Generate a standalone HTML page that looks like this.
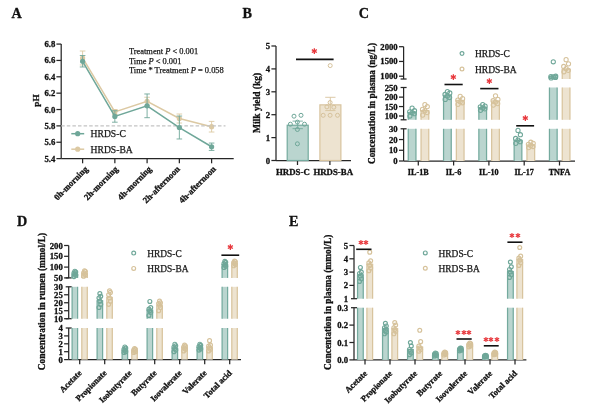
<!DOCTYPE html><html><head><meta charset="utf-8"><style>html,body{margin:0;padding:0;background:#fff;}svg{display:block;filter:blur(0.35px);}text{font-family:'Liberation Serif', 'Times New Roman', serif;}text[font-weight=bold]{stroke:#111;stroke-width:0.3px;}text[font-weight=normal]{stroke:#222;stroke-width:0.25px;}text.st{stroke:none;}</style></head><body>
<svg width="600" height="407" viewBox="0 0 600 407">
<rect width="600" height="407" fill="#fff"/>
<text x="0" y="0" font-size="14.2" font-weight="bold" fill="#111" transform="translate(11.4 18.4) scale(1 1.08)">A</text>
<text x="0" y="0" font-size="14.2" font-weight="bold" fill="#111" transform="translate(242.4 18.3) scale(1 1.08)">B</text>
<text x="0" y="0" font-size="14.2" font-weight="bold" fill="#111" transform="translate(358.8 18.4) scale(1 1.08)">C</text>
<text x="0" y="0" font-size="14.2" font-weight="bold" fill="#111" transform="translate(16.9 225.8) scale(1 1.08)">D</text>
<text x="0" y="0" font-size="14.2" font-weight="bold" fill="#111" transform="translate(289.0 225.8) scale(1 1.08)">E</text>
<line x1="61.20" y1="44.10" x2="61.20" y2="158.60" stroke="#262626" stroke-width="1.25"/>
<line x1="56.40" y1="158.60" x2="61.20" y2="158.60" stroke="#262626" stroke-width="1.25"/>
<text x="55.30" y="161.60" font-size="8.7" font-weight="bold" text-anchor="end" fill="#111">5.4</text>
<line x1="56.40" y1="142.24" x2="61.20" y2="142.24" stroke="#262626" stroke-width="1.25"/>
<text x="55.30" y="145.24" font-size="8.7" font-weight="bold" text-anchor="end" fill="#111">5.6</text>
<line x1="56.40" y1="125.88" x2="61.20" y2="125.88" stroke="#262626" stroke-width="1.25"/>
<text x="55.30" y="128.88" font-size="8.7" font-weight="bold" text-anchor="end" fill="#111">5.8</text>
<line x1="56.40" y1="109.52" x2="61.20" y2="109.52" stroke="#262626" stroke-width="1.25"/>
<text x="55.30" y="112.52" font-size="8.7" font-weight="bold" text-anchor="end" fill="#111">6.0</text>
<line x1="56.40" y1="93.16" x2="61.20" y2="93.16" stroke="#262626" stroke-width="1.25"/>
<text x="55.30" y="96.16" font-size="8.7" font-weight="bold" text-anchor="end" fill="#111">6.2</text>
<line x1="56.40" y1="76.80" x2="61.20" y2="76.80" stroke="#262626" stroke-width="1.25"/>
<text x="55.30" y="79.80" font-size="8.7" font-weight="bold" text-anchor="end" fill="#111">6.4</text>
<line x1="56.40" y1="60.44" x2="61.20" y2="60.44" stroke="#262626" stroke-width="1.25"/>
<text x="55.30" y="63.44" font-size="8.7" font-weight="bold" text-anchor="end" fill="#111">6.6</text>
<line x1="56.40" y1="44.08" x2="61.20" y2="44.08" stroke="#262626" stroke-width="1.25"/>
<text x="55.30" y="47.08" font-size="8.7" font-weight="bold" text-anchor="end" fill="#111">6.8</text>
<line x1="61.20" y1="158.60" x2="233.70" y2="158.60" stroke="#262626" stroke-width="1.25"/>
<line x1="82.60" y1="158.60" x2="82.60" y2="163.30" stroke="#262626" stroke-width="1.25"/>
<line x1="114.85" y1="158.60" x2="114.85" y2="163.30" stroke="#262626" stroke-width="1.25"/>
<line x1="147.10" y1="158.60" x2="147.10" y2="163.30" stroke="#262626" stroke-width="1.25"/>
<line x1="179.35" y1="158.60" x2="179.35" y2="163.30" stroke="#262626" stroke-width="1.25"/>
<line x1="211.60" y1="158.60" x2="211.60" y2="163.30" stroke="#262626" stroke-width="1.25"/>
<text x="88.50" y="169.60" font-size="8.7" font-weight="bold" text-anchor="end" fill="#111" transform="rotate(-45 88.50 169.60)">0h-morning</text>
<text x="118.50" y="169.60" font-size="8.7" font-weight="bold" text-anchor="end" fill="#111" transform="rotate(-45 118.50 169.60)">2h-morning</text>
<text x="152.10" y="169.60" font-size="8.7" font-weight="bold" text-anchor="end" fill="#111" transform="rotate(-45 152.10 169.60)">4h-morning</text>
<text x="180.50" y="169.60" font-size="8.7" font-weight="bold" text-anchor="end" fill="#111" transform="rotate(-45 180.50 169.60)">2h-afternoon</text>
<text x="216.50" y="169.60" font-size="8.7" font-weight="bold" text-anchor="end" fill="#111" transform="rotate(-45 216.50 169.60)">4h-afternoon</text>
<line x1="82.60" y1="51.03" x2="82.60" y2="64.94" stroke="#dcc9a3" stroke-width="0.9"/>
<line x1="79.80" y1="51.03" x2="85.40" y2="51.03" stroke="#dcc9a3" stroke-width="0.9"/>
<line x1="79.80" y1="64.94" x2="85.40" y2="64.94" stroke="#dcc9a3" stroke-width="0.9"/>
<line x1="114.85" y1="109.52" x2="114.85" y2="114.43" stroke="#dcc9a3" stroke-width="0.9"/>
<line x1="112.05" y1="109.52" x2="117.65" y2="109.52" stroke="#dcc9a3" stroke-width="0.9"/>
<line x1="112.05" y1="114.43" x2="117.65" y2="114.43" stroke="#dcc9a3" stroke-width="0.9"/>
<line x1="147.10" y1="97.25" x2="147.10" y2="105.43" stroke="#dcc9a3" stroke-width="0.9"/>
<line x1="144.30" y1="97.25" x2="149.90" y2="97.25" stroke="#dcc9a3" stroke-width="0.9"/>
<line x1="144.30" y1="105.43" x2="149.90" y2="105.43" stroke="#dcc9a3" stroke-width="0.9"/>
<line x1="179.35" y1="114.02" x2="179.35" y2="123.02" stroke="#dcc9a3" stroke-width="0.9"/>
<line x1="176.55" y1="114.02" x2="182.15" y2="114.02" stroke="#dcc9a3" stroke-width="0.9"/>
<line x1="176.55" y1="123.02" x2="182.15" y2="123.02" stroke="#dcc9a3" stroke-width="0.9"/>
<line x1="211.60" y1="121.38" x2="211.60" y2="132.02" stroke="#dcc9a3" stroke-width="0.9"/>
<line x1="208.80" y1="121.38" x2="214.40" y2="121.38" stroke="#dcc9a3" stroke-width="0.9"/>
<line x1="208.80" y1="132.02" x2="214.40" y2="132.02" stroke="#dcc9a3" stroke-width="0.9"/>
<polyline points="82.60,57.99 114.85,111.97 147.10,101.34 179.35,118.52 211.60,126.70" fill="none" stroke="#dcc9a3" stroke-width="1.5"/>
<circle cx="82.60" cy="57.99" r="2.6" fill="#dcc9a3" stroke="none" stroke-width="0"/>
<circle cx="114.85" cy="111.97" r="2.6" fill="#dcc9a3" stroke="none" stroke-width="0"/>
<circle cx="147.10" cy="101.34" r="2.6" fill="#dcc9a3" stroke="none" stroke-width="0"/>
<circle cx="179.35" cy="118.52" r="2.6" fill="#dcc9a3" stroke="none" stroke-width="0"/>
<circle cx="211.60" cy="126.70" r="2.6" fill="#dcc9a3" stroke="none" stroke-width="0"/>
<line x1="61.20" y1="125.88" x2="225.50" y2="125.88" stroke="#c4c4c4" stroke-width="1.1" stroke-dasharray="3.5,2.1"/>
<line x1="82.60" y1="55.53" x2="82.60" y2="66.98" stroke="#6fa799" stroke-width="0.9"/>
<line x1="79.80" y1="55.53" x2="85.40" y2="55.53" stroke="#6fa799" stroke-width="0.9"/>
<line x1="79.80" y1="66.98" x2="85.40" y2="66.98" stroke="#6fa799" stroke-width="0.9"/>
<line x1="114.85" y1="110.75" x2="114.85" y2="122.20" stroke="#6fa799" stroke-width="0.9"/>
<line x1="112.05" y1="110.75" x2="117.65" y2="110.75" stroke="#6fa799" stroke-width="0.9"/>
<line x1="112.05" y1="122.20" x2="117.65" y2="122.20" stroke="#6fa799" stroke-width="0.9"/>
<line x1="147.10" y1="93.98" x2="147.10" y2="117.70" stroke="#6fa799" stroke-width="0.9"/>
<line x1="144.30" y1="93.98" x2="149.90" y2="93.98" stroke="#6fa799" stroke-width="0.9"/>
<line x1="144.30" y1="117.70" x2="149.90" y2="117.70" stroke="#6fa799" stroke-width="0.9"/>
<line x1="179.35" y1="116.06" x2="179.35" y2="138.97" stroke="#6fa799" stroke-width="0.9"/>
<line x1="176.55" y1="116.06" x2="182.15" y2="116.06" stroke="#6fa799" stroke-width="0.9"/>
<line x1="176.55" y1="138.97" x2="182.15" y2="138.97" stroke="#6fa799" stroke-width="0.9"/>
<line x1="211.60" y1="143.06" x2="211.60" y2="150.42" stroke="#6fa799" stroke-width="0.9"/>
<line x1="208.80" y1="143.06" x2="214.40" y2="143.06" stroke="#6fa799" stroke-width="0.9"/>
<line x1="208.80" y1="150.42" x2="214.40" y2="150.42" stroke="#6fa799" stroke-width="0.9"/>
<polyline points="82.60,61.26 114.85,116.47 147.10,105.84 179.35,127.52 211.60,146.74" fill="none" stroke="#6fa799" stroke-width="1.5"/>
<circle cx="82.60" cy="61.26" r="2.6" fill="#6fa799" stroke="none" stroke-width="0"/>
<circle cx="114.85" cy="116.47" r="2.6" fill="#6fa799" stroke="none" stroke-width="0"/>
<circle cx="147.10" cy="105.84" r="2.6" fill="#6fa799" stroke="none" stroke-width="0"/>
<circle cx="179.35" cy="127.52" r="2.6" fill="#6fa799" stroke="none" stroke-width="0"/>
<circle cx="211.60" cy="146.74" r="2.6" fill="#6fa799" stroke="none" stroke-width="0"/>
<line x1="71.30" y1="133.70" x2="84.20" y2="133.70" stroke="#6fa799" stroke-width="1.5"/>
<circle cx="77.70" cy="133.70" r="2.6" fill="#6fa799" stroke="none" stroke-width="0"/>
<line x1="71.30" y1="149.20" x2="84.20" y2="149.20" stroke="#dcc9a3" stroke-width="1.5"/>
<circle cx="77.70" cy="149.20" r="2.6" fill="#dcc9a3" stroke="none" stroke-width="0"/>
<text x="90.60" y="137.40" font-size="9.6" font-weight="normal" text-anchor="start" fill="#111">HRDS-C</text>
<text x="90.60" y="152.90" font-size="9.6" font-weight="normal" text-anchor="start" fill="#111">HRDS-BA</text>
<text x="129.00" y="54.40" font-size="8.4" font-weight="normal" text-anchor="start" fill="#111">Treatment <tspan font-style="italic">P</tspan> &lt; 0.001</text>
<text x="129.00" y="63.60" font-size="8.4" font-weight="normal" text-anchor="start" fill="#111">Time <tspan font-style="italic">P</tspan> &lt; 0.001</text>
<text x="129.00" y="72.80" font-size="8.4" font-weight="normal" text-anchor="start" fill="#111">Time * Treatment <tspan font-style="italic">P</tspan> = 0.058</text>
<text x="39.40" y="100.60" font-size="9.2" font-weight="bold" text-anchor="middle" fill="#111" transform="rotate(-90 39.40 100.60)">pH</text>
<line x1="276.00" y1="46.00" x2="276.00" y2="160.50" stroke="#262626" stroke-width="1.25"/>
<line x1="271.40" y1="160.50" x2="276.00" y2="160.50" stroke="#262626" stroke-width="1.25"/>
<text x="270.10" y="163.50" font-size="8.7" font-weight="bold" text-anchor="end" fill="#111">0</text>
<line x1="271.40" y1="137.60" x2="276.00" y2="137.60" stroke="#262626" stroke-width="1.25"/>
<text x="270.10" y="140.60" font-size="8.7" font-weight="bold" text-anchor="end" fill="#111">1</text>
<line x1="271.40" y1="114.70" x2="276.00" y2="114.70" stroke="#262626" stroke-width="1.25"/>
<text x="270.10" y="117.70" font-size="8.7" font-weight="bold" text-anchor="end" fill="#111">2</text>
<line x1="271.40" y1="91.80" x2="276.00" y2="91.80" stroke="#262626" stroke-width="1.25"/>
<text x="270.10" y="94.80" font-size="8.7" font-weight="bold" text-anchor="end" fill="#111">3</text>
<line x1="271.40" y1="68.90" x2="276.00" y2="68.90" stroke="#262626" stroke-width="1.25"/>
<text x="270.10" y="71.90" font-size="8.7" font-weight="bold" text-anchor="end" fill="#111">4</text>
<line x1="271.40" y1="46.00" x2="276.00" y2="46.00" stroke="#262626" stroke-width="1.25"/>
<text x="270.10" y="49.00" font-size="8.7" font-weight="bold" text-anchor="end" fill="#111">5</text>
<line x1="276.00" y1="160.50" x2="351.00" y2="160.50" stroke="#262626" stroke-width="1.25"/>
<line x1="297.50" y1="160.50" x2="297.50" y2="165.00" stroke="#262626" stroke-width="1.25"/>
<line x1="329.90" y1="160.50" x2="329.90" y2="165.00" stroke="#262626" stroke-width="1.25"/>
<rect x="287.20" y="125.23" width="21.00" height="35.27" fill="#bad5cf" stroke="#74aa9e" stroke-width="1.2"/>
<rect x="319.90" y="104.85" width="21.00" height="55.65" fill="#ede3d0" stroke="#d8c49e" stroke-width="1.2"/>
<line x1="297.70" y1="128.67" x2="297.70" y2="121.11" stroke="#74aa9e" stroke-width="0.9"/>
<line x1="292.50" y1="121.11" x2="302.90" y2="121.11" stroke="#74aa9e" stroke-width="0.9"/>
<line x1="292.50" y1="128.67" x2="302.90" y2="128.67" stroke="#74aa9e" stroke-width="0.9"/>
<line x1="330.30" y1="110.58" x2="330.30" y2="97.30" stroke="#d8c49e" stroke-width="0.9"/>
<line x1="325.20" y1="97.30" x2="335.50" y2="97.30" stroke="#d8c49e" stroke-width="0.9"/>
<line x1="325.20" y1="110.58" x2="335.50" y2="110.58" stroke="#d8c49e" stroke-width="0.9"/>
<circle cx="294.00" cy="116.20" r="2.0" fill="none" stroke="#6fa799" stroke-width="1.0"/>
<circle cx="301.00" cy="115.30" r="2.0" fill="none" stroke="#6fa799" stroke-width="1.0"/>
<circle cx="290.40" cy="124.20" r="2.0" fill="none" stroke="#6fa799" stroke-width="1.0"/>
<circle cx="297.40" cy="122.10" r="2.0" fill="none" stroke="#6fa799" stroke-width="1.0"/>
<circle cx="304.50" cy="124.20" r="2.0" fill="none" stroke="#6fa799" stroke-width="1.0"/>
<circle cx="297.40" cy="129.50" r="2.0" fill="none" stroke="#6fa799" stroke-width="1.0"/>
<circle cx="297.40" cy="143.80" r="2.0" fill="none" stroke="#6fa799" stroke-width="1.0"/>
<circle cx="330.10" cy="102.50" r="2.0" fill="none" stroke="#d6c29b" stroke-width="1.0"/>
<circle cx="326.90" cy="106.90" r="2.0" fill="none" stroke="#d6c29b" stroke-width="1.0"/>
<circle cx="333.80" cy="107.20" r="2.0" fill="none" stroke="#d6c29b" stroke-width="1.0"/>
<circle cx="323.20" cy="115.30" r="2.0" fill="none" stroke="#d6c29b" stroke-width="1.0"/>
<circle cx="330.10" cy="115.30" r="2.0" fill="none" stroke="#d6c29b" stroke-width="1.0"/>
<circle cx="337.50" cy="115.30" r="2.0" fill="none" stroke="#d6c29b" stroke-width="1.0"/>
<circle cx="330.20" cy="65.60" r="2.0" fill="none" stroke="#d6c29b" stroke-width="1.0"/>
<text x="292.90" y="174.50" font-size="8.8" font-weight="bold" text-anchor="middle" fill="#111">HRDS-C</text>
<text x="333.20" y="174.50" font-size="8.8" font-weight="bold" text-anchor="middle" fill="#111">HRDS-BA</text>
<line x1="296.00" y1="59.40" x2="333.60" y2="59.40" stroke="#111" stroke-width="1.6"/>
<text class="st" x="314.80" y="54.00" font-size="8.3" text-anchor="middle" fill="#e8383d" font-family="'DejaVu Sans', sans-serif">&#x2731;</text>
<text x="259.80" y="102.90" font-size="9.5" font-weight="bold" text-anchor="middle" fill="#111" transform="rotate(-90 259.80 102.90)">Milk yield (kg)</text>
<line x1="403.60" y1="46.70" x2="403.60" y2="79.00" stroke="#262626" stroke-width="1.25"/>
<line x1="399.00" y1="46.70" x2="403.60" y2="46.70" stroke="#262626" stroke-width="1.25"/>
<text x="397.70" y="49.70" font-size="8.7" font-weight="bold" text-anchor="end" fill="#111">2000</text>
<line x1="399.00" y1="61.45" x2="403.60" y2="61.45" stroke="#262626" stroke-width="1.25"/>
<text x="397.70" y="64.45" font-size="8.7" font-weight="bold" text-anchor="end" fill="#111">1500</text>
<line x1="399.00" y1="76.20" x2="403.60" y2="76.20" stroke="#262626" stroke-width="1.25"/>
<text x="397.70" y="79.20" font-size="8.7" font-weight="bold" text-anchor="end" fill="#111">1000</text>
<line x1="400.60" y1="79.00" x2="406.60" y2="79.00" stroke="#262626" stroke-width="1.25"/>
<line x1="403.60" y1="87.50" x2="403.60" y2="119.80" stroke="#262626" stroke-width="1.25"/>
<text x="397.70" y="90.69" font-size="8.7" font-weight="bold" text-anchor="end" fill="#111">250</text>
<line x1="399.00" y1="97.13" x2="403.60" y2="97.13" stroke="#262626" stroke-width="1.25"/>
<text x="397.70" y="100.13" font-size="8.7" font-weight="bold" text-anchor="end" fill="#111">200</text>
<line x1="399.00" y1="106.56" x2="403.60" y2="106.56" stroke="#262626" stroke-width="1.25"/>
<text x="397.70" y="109.56" font-size="8.7" font-weight="bold" text-anchor="end" fill="#111">150</text>
<line x1="399.00" y1="116.00" x2="403.60" y2="116.00" stroke="#262626" stroke-width="1.25"/>
<text x="397.70" y="119.00" font-size="8.7" font-weight="bold" text-anchor="end" fill="#111">100</text>
<line x1="400.60" y1="87.50" x2="406.60" y2="87.50" stroke="#262626" stroke-width="1.25"/>
<line x1="400.60" y1="119.80" x2="406.60" y2="119.80" stroke="#262626" stroke-width="1.25"/>
<line x1="403.60" y1="128.80" x2="403.60" y2="161.00" stroke="#262626" stroke-width="1.25"/>
<text x="397.70" y="131.81" font-size="8.7" font-weight="bold" text-anchor="end" fill="#111">30</text>
<line x1="399.00" y1="139.54" x2="403.60" y2="139.54" stroke="#262626" stroke-width="1.25"/>
<text x="397.70" y="142.54" font-size="8.7" font-weight="bold" text-anchor="end" fill="#111">20</text>
<line x1="399.00" y1="150.27" x2="403.60" y2="150.27" stroke="#262626" stroke-width="1.25"/>
<text x="397.70" y="153.27" font-size="8.7" font-weight="bold" text-anchor="end" fill="#111">10</text>
<line x1="399.00" y1="161.00" x2="403.60" y2="161.00" stroke="#262626" stroke-width="1.25"/>
<text x="397.70" y="164.00" font-size="8.7" font-weight="bold" text-anchor="end" fill="#111">0</text>
<line x1="400.60" y1="128.80" x2="406.60" y2="128.80" stroke="#262626" stroke-width="1.25"/>
<line x1="403.60" y1="161.00" x2="575.00" y2="161.00" stroke="#262626" stroke-width="1.25"/>
<line x1="418.30" y1="161.00" x2="418.30" y2="165.50" stroke="#262626" stroke-width="1.25"/>
<text x="418.30" y="175.20" font-size="8.2" font-weight="bold" text-anchor="middle" fill="#111">IL-1B</text>
<line x1="453.60" y1="161.00" x2="453.60" y2="165.50" stroke="#262626" stroke-width="1.25"/>
<text x="453.60" y="175.20" font-size="8.2" font-weight="bold" text-anchor="middle" fill="#111">IL-6</text>
<line x1="488.90" y1="161.00" x2="488.90" y2="165.50" stroke="#262626" stroke-width="1.25"/>
<text x="488.90" y="175.20" font-size="8.2" font-weight="bold" text-anchor="middle" fill="#111">IL-10</text>
<line x1="524.20" y1="161.00" x2="524.20" y2="165.50" stroke="#262626" stroke-width="1.25"/>
<text x="524.20" y="175.20" font-size="8.2" font-weight="bold" text-anchor="middle" fill="#111">IL-17</text>
<line x1="559.50" y1="161.00" x2="559.50" y2="165.50" stroke="#262626" stroke-width="1.25"/>
<text x="559.50" y="175.20" font-size="8.2" font-weight="bold" text-anchor="middle" fill="#111">TNFA</text>
<rect x="408.25" y="128.80" width="7.70" height="32.20" fill="#bad5cf"/>
<line x1="408.25" y1="128.80" x2="408.25" y2="161.00" stroke="#74aa9e" stroke-width="1.25"/>
<line x1="415.95" y1="128.80" x2="415.95" y2="161.00" stroke="#74aa9e" stroke-width="1.25"/>
<rect x="408.25" y="112.60" width="7.70" height="7.20" fill="#bad5cf"/>
<line x1="408.25" y1="112.60" x2="408.25" y2="119.80" stroke="#74aa9e" stroke-width="1.25"/>
<line x1="415.95" y1="112.60" x2="415.95" y2="119.80" stroke="#74aa9e" stroke-width="1.25"/>
<line x1="407.70" y1="112.60" x2="416.50" y2="112.60" stroke="#74aa9e" stroke-width="1.1"/>
<rect x="421.05" y="128.80" width="7.70" height="32.20" fill="#ede3d0"/>
<line x1="421.05" y1="128.80" x2="421.05" y2="161.00" stroke="#d8c49e" stroke-width="1.25"/>
<line x1="428.75" y1="128.80" x2="428.75" y2="161.00" stroke="#d8c49e" stroke-width="1.25"/>
<rect x="421.05" y="110.53" width="7.70" height="9.27" fill="#ede3d0"/>
<line x1="421.05" y1="110.53" x2="421.05" y2="119.80" stroke="#d8c49e" stroke-width="1.25"/>
<line x1="428.75" y1="110.53" x2="428.75" y2="119.80" stroke="#d8c49e" stroke-width="1.25"/>
<line x1="420.50" y1="110.53" x2="429.30" y2="110.53" stroke="#d8c49e" stroke-width="1.1"/>
<rect x="443.55" y="128.80" width="7.70" height="32.20" fill="#bad5cf"/>
<line x1="443.55" y1="128.80" x2="443.55" y2="161.00" stroke="#74aa9e" stroke-width="1.25"/>
<line x1="451.25" y1="128.80" x2="451.25" y2="161.00" stroke="#74aa9e" stroke-width="1.25"/>
<rect x="443.55" y="95.24" width="7.70" height="24.56" fill="#bad5cf"/>
<line x1="443.55" y1="95.24" x2="443.55" y2="119.80" stroke="#74aa9e" stroke-width="1.25"/>
<line x1="451.25" y1="95.24" x2="451.25" y2="119.80" stroke="#74aa9e" stroke-width="1.25"/>
<line x1="443.00" y1="95.24" x2="451.80" y2="95.24" stroke="#74aa9e" stroke-width="1.1"/>
<rect x="456.35" y="128.80" width="7.70" height="32.20" fill="#ede3d0"/>
<line x1="456.35" y1="128.80" x2="456.35" y2="161.00" stroke="#d8c49e" stroke-width="1.25"/>
<line x1="464.05" y1="128.80" x2="464.05" y2="161.00" stroke="#d8c49e" stroke-width="1.25"/>
<rect x="456.35" y="100.34" width="7.70" height="19.46" fill="#ede3d0"/>
<line x1="456.35" y1="100.34" x2="456.35" y2="119.80" stroke="#d8c49e" stroke-width="1.25"/>
<line x1="464.05" y1="100.34" x2="464.05" y2="119.80" stroke="#d8c49e" stroke-width="1.25"/>
<line x1="455.80" y1="100.34" x2="464.60" y2="100.34" stroke="#d8c49e" stroke-width="1.1"/>
<rect x="478.85" y="128.80" width="7.70" height="32.20" fill="#bad5cf"/>
<line x1="478.85" y1="128.80" x2="478.85" y2="161.00" stroke="#74aa9e" stroke-width="1.25"/>
<line x1="486.55" y1="128.80" x2="486.55" y2="161.00" stroke="#74aa9e" stroke-width="1.25"/>
<rect x="478.85" y="107.51" width="7.70" height="12.29" fill="#bad5cf"/>
<line x1="478.85" y1="107.51" x2="478.85" y2="119.80" stroke="#74aa9e" stroke-width="1.25"/>
<line x1="486.55" y1="107.51" x2="486.55" y2="119.80" stroke="#74aa9e" stroke-width="1.25"/>
<line x1="478.30" y1="107.51" x2="487.10" y2="107.51" stroke="#74aa9e" stroke-width="1.1"/>
<rect x="491.65" y="128.80" width="7.70" height="32.20" fill="#ede3d0"/>
<line x1="491.65" y1="128.80" x2="491.65" y2="161.00" stroke="#d8c49e" stroke-width="1.25"/>
<line x1="499.35" y1="128.80" x2="499.35" y2="161.00" stroke="#d8c49e" stroke-width="1.25"/>
<rect x="491.65" y="100.90" width="7.70" height="18.90" fill="#ede3d0"/>
<line x1="491.65" y1="100.90" x2="491.65" y2="119.80" stroke="#d8c49e" stroke-width="1.25"/>
<line x1="499.35" y1="100.90" x2="499.35" y2="119.80" stroke="#d8c49e" stroke-width="1.25"/>
<line x1="491.10" y1="100.90" x2="499.90" y2="100.90" stroke="#d8c49e" stroke-width="1.1"/>
<rect x="514.15" y="140.29" width="7.70" height="20.71" fill="#bad5cf"/>
<line x1="514.15" y1="140.29" x2="514.15" y2="161.00" stroke="#74aa9e" stroke-width="1.25"/>
<line x1="521.85" y1="140.29" x2="521.85" y2="161.00" stroke="#74aa9e" stroke-width="1.25"/>
<line x1="513.60" y1="140.29" x2="522.40" y2="140.29" stroke="#74aa9e" stroke-width="1.1"/>
<rect x="526.95" y="144.91" width="7.70" height="16.09" fill="#ede3d0"/>
<line x1="526.95" y1="144.91" x2="526.95" y2="161.00" stroke="#d8c49e" stroke-width="1.25"/>
<line x1="534.65" y1="144.91" x2="534.65" y2="161.00" stroke="#d8c49e" stroke-width="1.25"/>
<line x1="526.40" y1="144.91" x2="535.20" y2="144.91" stroke="#d8c49e" stroke-width="1.1"/>
<rect x="549.45" y="128.80" width="7.70" height="32.20" fill="#bad5cf"/>
<line x1="549.45" y1="128.80" x2="549.45" y2="161.00" stroke="#74aa9e" stroke-width="1.25"/>
<line x1="557.15" y1="128.80" x2="557.15" y2="161.00" stroke="#74aa9e" stroke-width="1.25"/>
<rect x="549.45" y="87.50" width="7.70" height="32.30" fill="#bad5cf"/>
<line x1="549.45" y1="87.50" x2="549.45" y2="119.80" stroke="#74aa9e" stroke-width="1.25"/>
<line x1="557.15" y1="87.50" x2="557.15" y2="119.80" stroke="#74aa9e" stroke-width="1.25"/>
<rect x="549.45" y="76.94" width="7.70" height="2.06" fill="#bad5cf"/>
<line x1="549.45" y1="76.94" x2="549.45" y2="79.00" stroke="#74aa9e" stroke-width="1.25"/>
<line x1="557.15" y1="76.94" x2="557.15" y2="79.00" stroke="#74aa9e" stroke-width="1.25"/>
<line x1="548.90" y1="76.94" x2="557.70" y2="76.94" stroke="#74aa9e" stroke-width="1.1"/>
<rect x="562.25" y="128.80" width="7.70" height="32.20" fill="#ede3d0"/>
<line x1="562.25" y1="128.80" x2="562.25" y2="161.00" stroke="#d8c49e" stroke-width="1.25"/>
<line x1="569.95" y1="128.80" x2="569.95" y2="161.00" stroke="#d8c49e" stroke-width="1.25"/>
<rect x="562.25" y="87.50" width="7.70" height="32.30" fill="#ede3d0"/>
<line x1="562.25" y1="87.50" x2="562.25" y2="119.80" stroke="#d8c49e" stroke-width="1.25"/>
<line x1="569.95" y1="87.50" x2="569.95" y2="119.80" stroke="#d8c49e" stroke-width="1.25"/>
<rect x="562.25" y="69.12" width="7.70" height="9.88" fill="#ede3d0"/>
<line x1="562.25" y1="69.12" x2="562.25" y2="79.00" stroke="#d8c49e" stroke-width="1.25"/>
<line x1="569.95" y1="69.12" x2="569.95" y2="79.00" stroke="#d8c49e" stroke-width="1.25"/>
<line x1="561.70" y1="69.12" x2="570.50" y2="69.12" stroke="#d8c49e" stroke-width="1.1"/>
<circle cx="409.90" cy="116.00" r="2.1" fill="none" stroke="#6fa799" stroke-width="1.05"/>
<circle cx="414.30" cy="113.74" r="2.1" fill="none" stroke="#6fa799" stroke-width="1.05"/>
<circle cx="412.10" cy="112.60" r="2.1" fill="none" stroke="#6fa799" stroke-width="1.05"/>
<circle cx="409.70" cy="111.85" r="2.1" fill="none" stroke="#6fa799" stroke-width="1.05"/>
<circle cx="414.50" cy="110.72" r="2.1" fill="none" stroke="#6fa799" stroke-width="1.05"/>
<circle cx="412.10" cy="108.07" r="2.1" fill="none" stroke="#6fa799" stroke-width="1.05"/>
<circle cx="422.70" cy="115.06" r="2.1" fill="none" stroke="#d6c29b" stroke-width="1.05"/>
<circle cx="427.10" cy="112.60" r="2.1" fill="none" stroke="#d6c29b" stroke-width="1.05"/>
<circle cx="424.90" cy="110.72" r="2.1" fill="none" stroke="#d6c29b" stroke-width="1.05"/>
<circle cx="422.50" cy="109.40" r="2.1" fill="none" stroke="#d6c29b" stroke-width="1.05"/>
<circle cx="427.30" cy="106.56" r="2.1" fill="none" stroke="#d6c29b" stroke-width="1.05"/>
<circle cx="424.90" cy="104.68" r="2.1" fill="none" stroke="#d6c29b" stroke-width="1.05"/>
<circle cx="445.20" cy="99.39" r="2.1" fill="none" stroke="#6fa799" stroke-width="1.05"/>
<circle cx="449.60" cy="97.51" r="2.1" fill="none" stroke="#6fa799" stroke-width="1.05"/>
<circle cx="447.40" cy="96.00" r="2.1" fill="none" stroke="#6fa799" stroke-width="1.05"/>
<circle cx="445.00" cy="94.49" r="2.1" fill="none" stroke="#6fa799" stroke-width="1.05"/>
<circle cx="449.80" cy="92.98" r="2.1" fill="none" stroke="#6fa799" stroke-width="1.05"/>
<circle cx="447.40" cy="91.66" r="2.1" fill="none" stroke="#6fa799" stroke-width="1.05"/>
<circle cx="458.00" cy="104.30" r="2.1" fill="none" stroke="#d6c29b" stroke-width="1.05"/>
<circle cx="462.40" cy="102.79" r="2.1" fill="none" stroke="#d6c29b" stroke-width="1.05"/>
<circle cx="460.20" cy="101.66" r="2.1" fill="none" stroke="#d6c29b" stroke-width="1.05"/>
<circle cx="457.80" cy="100.15" r="2.1" fill="none" stroke="#d6c29b" stroke-width="1.05"/>
<circle cx="462.60" cy="98.64" r="2.1" fill="none" stroke="#d6c29b" stroke-width="1.05"/>
<circle cx="460.20" cy="96.38" r="2.1" fill="none" stroke="#d6c29b" stroke-width="1.05"/>
<circle cx="480.50" cy="110.34" r="2.1" fill="none" stroke="#6fa799" stroke-width="1.05"/>
<circle cx="484.90" cy="108.83" r="2.1" fill="none" stroke="#6fa799" stroke-width="1.05"/>
<circle cx="482.70" cy="107.89" r="2.1" fill="none" stroke="#6fa799" stroke-width="1.05"/>
<circle cx="480.30" cy="106.94" r="2.1" fill="none" stroke="#6fa799" stroke-width="1.05"/>
<circle cx="485.10" cy="106.19" r="2.1" fill="none" stroke="#6fa799" stroke-width="1.05"/>
<circle cx="482.70" cy="104.68" r="2.1" fill="none" stroke="#6fa799" stroke-width="1.05"/>
<circle cx="493.30" cy="105.06" r="2.1" fill="none" stroke="#d6c29b" stroke-width="1.05"/>
<circle cx="497.70" cy="103.55" r="2.1" fill="none" stroke="#d6c29b" stroke-width="1.05"/>
<circle cx="495.50" cy="102.04" r="2.1" fill="none" stroke="#d6c29b" stroke-width="1.05"/>
<circle cx="493.10" cy="100.72" r="2.1" fill="none" stroke="#d6c29b" stroke-width="1.05"/>
<circle cx="497.90" cy="99.39" r="2.1" fill="none" stroke="#d6c29b" stroke-width="1.05"/>
<circle cx="495.50" cy="95.81" r="2.1" fill="none" stroke="#d6c29b" stroke-width="1.05"/>
<circle cx="515.80" cy="143.30" r="2.1" fill="none" stroke="#6fa799" stroke-width="1.05"/>
<circle cx="520.20" cy="141.69" r="2.1" fill="none" stroke="#6fa799" stroke-width="1.05"/>
<circle cx="518.00" cy="140.08" r="2.1" fill="none" stroke="#6fa799" stroke-width="1.05"/>
<circle cx="515.60" cy="138.47" r="2.1" fill="none" stroke="#6fa799" stroke-width="1.05"/>
<circle cx="520.40" cy="134.71" r="2.1" fill="none" stroke="#6fa799" stroke-width="1.05"/>
<circle cx="518.00" cy="130.42" r="2.1" fill="none" stroke="#6fa799" stroke-width="1.05"/>
<circle cx="528.60" cy="147.59" r="2.1" fill="none" stroke="#d6c29b" stroke-width="1.05"/>
<circle cx="533.00" cy="146.51" r="2.1" fill="none" stroke="#d6c29b" stroke-width="1.05"/>
<circle cx="530.80" cy="145.44" r="2.1" fill="none" stroke="#d6c29b" stroke-width="1.05"/>
<circle cx="528.40" cy="144.37" r="2.1" fill="none" stroke="#d6c29b" stroke-width="1.05"/>
<circle cx="533.20" cy="143.30" r="2.1" fill="none" stroke="#d6c29b" stroke-width="1.05"/>
<circle cx="530.80" cy="142.22" r="2.1" fill="none" stroke="#d6c29b" stroke-width="1.05"/>
<circle cx="551.10" cy="77.97" r="2.1" fill="none" stroke="#6fa799" stroke-width="1.05"/>
<circle cx="555.50" cy="77.38" r="2.1" fill="none" stroke="#6fa799" stroke-width="1.05"/>
<circle cx="553.30" cy="76.94" r="2.1" fill="none" stroke="#6fa799" stroke-width="1.05"/>
<circle cx="550.90" cy="76.50" r="2.1" fill="none" stroke="#6fa799" stroke-width="1.05"/>
<circle cx="555.70" cy="76.20" r="2.1" fill="none" stroke="#6fa799" stroke-width="1.05"/>
<circle cx="553.30" cy="61.75" r="2.1" fill="none" stroke="#6fa799" stroke-width="1.05"/>
<circle cx="563.90" cy="71.78" r="2.1" fill="none" stroke="#d6c29b" stroke-width="1.05"/>
<circle cx="568.30" cy="70.30" r="2.1" fill="none" stroke="#d6c29b" stroke-width="1.05"/>
<circle cx="566.10" cy="68.53" r="2.1" fill="none" stroke="#d6c29b" stroke-width="1.05"/>
<circle cx="563.70" cy="66.47" r="2.1" fill="none" stroke="#d6c29b" stroke-width="1.05"/>
<circle cx="568.50" cy="63.81" r="2.1" fill="none" stroke="#d6c29b" stroke-width="1.05"/>
<circle cx="566.10" cy="59.68" r="2.1" fill="none" stroke="#d6c29b" stroke-width="1.05"/>
<circle cx="462.00" cy="53.50" r="1.9" fill="none" stroke="#6fa799" stroke-width="1.2"/>
<text x="475.00" y="57.20" font-size="9.5" font-weight="normal" text-anchor="start" fill="#111">HRDS-C</text>
<circle cx="462.00" cy="69.00" r="1.9" fill="none" stroke="#d6c29b" stroke-width="1.2"/>
<text x="475.00" y="72.70" font-size="9.5" font-weight="normal" text-anchor="start" fill="#111">HRDS-BA</text>
<line x1="444.50" y1="84.50" x2="462.70" y2="84.50" stroke="#111" stroke-width="1.6"/>
<text class="st" x="453.80" y="80.20" font-size="8.3" text-anchor="middle" fill="#e8383d" font-family="'DejaVu Sans', sans-serif">&#x2731;</text>
<line x1="480.20" y1="88.60" x2="498.50" y2="88.60" stroke="#111" stroke-width="1.6"/>
<text class="st" x="489.40" y="84.30" font-size="8.3" text-anchor="middle" fill="#e8383d" font-family="'DejaVu Sans', sans-serif">&#x2731;</text>
<line x1="516.20" y1="125.80" x2="534.10" y2="125.80" stroke="#111" stroke-width="1.6"/>
<text class="st" x="525.30" y="121.30" font-size="8.3" text-anchor="middle" fill="#e8383d" font-family="'DejaVu Sans', sans-serif">&#x2731;</text>
<text x="374.80" y="103.50" font-size="9.3" font-weight="bold" text-anchor="middle" fill="#111" transform="rotate(-90 374.80 103.50)">Concentation in plasma (ng/L)</text>
<line x1="68.70" y1="245.50" x2="68.70" y2="277.90" stroke="#262626" stroke-width="1.25"/>
<line x1="64.10" y1="245.50" x2="68.70" y2="245.50" stroke="#262626" stroke-width="1.25"/>
<text x="62.80" y="248.50" font-size="8.7" font-weight="bold" text-anchor="end" fill="#111">200</text>
<line x1="64.10" y1="256.30" x2="68.70" y2="256.30" stroke="#262626" stroke-width="1.25"/>
<text x="62.80" y="259.30" font-size="8.7" font-weight="bold" text-anchor="end" fill="#111">150</text>
<line x1="64.10" y1="267.10" x2="68.70" y2="267.10" stroke="#262626" stroke-width="1.25"/>
<text x="62.80" y="270.10" font-size="8.7" font-weight="bold" text-anchor="end" fill="#111">100</text>
<line x1="64.10" y1="277.90" x2="68.70" y2="277.90" stroke="#262626" stroke-width="1.25"/>
<text x="62.80" y="280.90" font-size="8.7" font-weight="bold" text-anchor="end" fill="#111">50</text>
<line x1="65.70" y1="277.90" x2="71.70" y2="277.90" stroke="#262626" stroke-width="1.25"/>
<line x1="68.70" y1="286.80" x2="68.70" y2="318.70" stroke="#262626" stroke-width="1.25"/>
<text x="62.80" y="289.80" font-size="8.7" font-weight="bold" text-anchor="end" fill="#111">30</text>
<line x1="64.10" y1="294.77" x2="68.70" y2="294.77" stroke="#262626" stroke-width="1.25"/>
<text x="62.80" y="297.77" font-size="8.7" font-weight="bold" text-anchor="end" fill="#111">25</text>
<line x1="64.10" y1="302.75" x2="68.70" y2="302.75" stroke="#262626" stroke-width="1.25"/>
<text x="62.80" y="305.75" font-size="8.7" font-weight="bold" text-anchor="end" fill="#111">20</text>
<line x1="64.10" y1="310.72" x2="68.70" y2="310.72" stroke="#262626" stroke-width="1.25"/>
<text x="62.80" y="313.72" font-size="8.7" font-weight="bold" text-anchor="end" fill="#111">15</text>
<line x1="64.10" y1="318.70" x2="68.70" y2="318.70" stroke="#262626" stroke-width="1.25"/>
<text x="62.80" y="321.70" font-size="8.7" font-weight="bold" text-anchor="end" fill="#111">10</text>
<line x1="65.70" y1="286.80" x2="71.70" y2="286.80" stroke="#262626" stroke-width="1.25"/>
<line x1="65.70" y1="318.70" x2="71.70" y2="318.70" stroke="#262626" stroke-width="1.25"/>
<line x1="68.70" y1="328.00" x2="68.70" y2="359.60" stroke="#262626" stroke-width="1.25"/>
<text x="62.80" y="331.00" font-size="8.7" font-weight="bold" text-anchor="end" fill="#111">4</text>
<line x1="64.10" y1="335.90" x2="68.70" y2="335.90" stroke="#262626" stroke-width="1.25"/>
<text x="62.80" y="338.90" font-size="8.7" font-weight="bold" text-anchor="end" fill="#111">3</text>
<line x1="64.10" y1="343.80" x2="68.70" y2="343.80" stroke="#262626" stroke-width="1.25"/>
<text x="62.80" y="346.80" font-size="8.7" font-weight="bold" text-anchor="end" fill="#111">2</text>
<line x1="64.10" y1="351.70" x2="68.70" y2="351.70" stroke="#262626" stroke-width="1.25"/>
<text x="62.80" y="354.70" font-size="8.7" font-weight="bold" text-anchor="end" fill="#111">1</text>
<line x1="64.10" y1="359.60" x2="68.70" y2="359.60" stroke="#262626" stroke-width="1.25"/>
<text x="62.80" y="362.60" font-size="8.7" font-weight="bold" text-anchor="end" fill="#111">0</text>
<line x1="65.70" y1="328.00" x2="71.70" y2="328.00" stroke="#262626" stroke-width="1.25"/>
<line x1="68.70" y1="359.60" x2="241.00" y2="359.60" stroke="#262626" stroke-width="1.25"/>
<line x1="79.70" y1="359.60" x2="79.70" y2="364.30" stroke="#262626" stroke-width="1.25"/>
<text x="82.30" y="373.60" font-size="8.5" font-weight="bold" text-anchor="end" fill="#111" transform="rotate(-45 82.30 373.60)">Acetate</text>
<line x1="104.70" y1="359.60" x2="104.70" y2="364.30" stroke="#262626" stroke-width="1.25"/>
<text x="107.30" y="373.60" font-size="8.5" font-weight="bold" text-anchor="end" fill="#111" transform="rotate(-45 107.30 373.60)">Propionate</text>
<line x1="129.70" y1="359.60" x2="129.70" y2="364.30" stroke="#262626" stroke-width="1.25"/>
<text x="132.30" y="373.60" font-size="8.5" font-weight="bold" text-anchor="end" fill="#111" transform="rotate(-45 132.30 373.60)">Isobutyrate</text>
<line x1="154.70" y1="359.60" x2="154.70" y2="364.30" stroke="#262626" stroke-width="1.25"/>
<text x="157.30" y="373.60" font-size="8.5" font-weight="bold" text-anchor="end" fill="#111" transform="rotate(-45 157.30 373.60)">Butyrate</text>
<line x1="179.70" y1="359.60" x2="179.70" y2="364.30" stroke="#262626" stroke-width="1.25"/>
<text x="182.30" y="373.60" font-size="8.5" font-weight="bold" text-anchor="end" fill="#111" transform="rotate(-45 182.30 373.60)">Isovalerate</text>
<line x1="204.70" y1="359.60" x2="204.70" y2="364.30" stroke="#262626" stroke-width="1.25"/>
<text x="207.30" y="373.60" font-size="8.5" font-weight="bold" text-anchor="end" fill="#111" transform="rotate(-45 207.30 373.60)">Valerate</text>
<line x1="229.70" y1="359.60" x2="229.70" y2="364.30" stroke="#262626" stroke-width="1.25"/>
<text x="232.30" y="373.60" font-size="8.5" font-weight="bold" text-anchor="end" fill="#111" transform="rotate(-45 232.30 373.60)">Total acid</text>
<rect x="72.10" y="328.00" width="5.50" height="31.60" fill="#bad5cf"/>
<line x1="72.10" y1="328.00" x2="72.10" y2="359.60" stroke="#74aa9e" stroke-width="1.25"/>
<line x1="77.60" y1="328.00" x2="77.60" y2="359.60" stroke="#74aa9e" stroke-width="1.25"/>
<rect x="72.10" y="286.80" width="5.50" height="31.90" fill="#bad5cf"/>
<line x1="72.10" y1="286.80" x2="72.10" y2="318.70" stroke="#74aa9e" stroke-width="1.25"/>
<line x1="77.60" y1="286.80" x2="77.60" y2="318.70" stroke="#74aa9e" stroke-width="1.25"/>
<rect x="72.10" y="274.01" width="5.50" height="3.89" fill="#bad5cf"/>
<line x1="72.10" y1="274.01" x2="72.10" y2="277.90" stroke="#74aa9e" stroke-width="1.25"/>
<line x1="77.60" y1="274.01" x2="77.60" y2="277.90" stroke="#74aa9e" stroke-width="1.25"/>
<line x1="71.55" y1="274.01" x2="78.15" y2="274.01" stroke="#74aa9e" stroke-width="1.1"/>
<rect x="81.80" y="328.00" width="5.50" height="31.60" fill="#ede3d0"/>
<line x1="81.80" y1="328.00" x2="81.80" y2="359.60" stroke="#d8c49e" stroke-width="1.25"/>
<line x1="87.30" y1="328.00" x2="87.30" y2="359.60" stroke="#d8c49e" stroke-width="1.25"/>
<rect x="81.80" y="286.80" width="5.50" height="31.90" fill="#ede3d0"/>
<line x1="81.80" y1="286.80" x2="81.80" y2="318.70" stroke="#d8c49e" stroke-width="1.25"/>
<line x1="87.30" y1="286.80" x2="87.30" y2="318.70" stroke="#d8c49e" stroke-width="1.25"/>
<rect x="81.80" y="273.58" width="5.50" height="4.32" fill="#ede3d0"/>
<line x1="81.80" y1="273.58" x2="81.80" y2="277.90" stroke="#d8c49e" stroke-width="1.25"/>
<line x1="87.30" y1="273.58" x2="87.30" y2="277.90" stroke="#d8c49e" stroke-width="1.25"/>
<line x1="81.25" y1="273.58" x2="87.85" y2="273.58" stroke="#d8c49e" stroke-width="1.1"/>
<circle cx="73.95" cy="276.60" r="1.95" fill="none" stroke="#6fa799" stroke-width="1.2"/>
<circle cx="75.75" cy="275.31" r="1.95" fill="none" stroke="#6fa799" stroke-width="1.2"/>
<circle cx="74.85" cy="274.23" r="1.95" fill="none" stroke="#6fa799" stroke-width="1.2"/>
<circle cx="73.95" cy="273.15" r="1.95" fill="none" stroke="#6fa799" stroke-width="1.2"/>
<circle cx="75.75" cy="272.07" r="1.95" fill="none" stroke="#6fa799" stroke-width="1.2"/>
<circle cx="74.85" cy="271.20" r="1.95" fill="none" stroke="#6fa799" stroke-width="1.2"/>
<circle cx="83.65" cy="276.17" r="1.95" fill="none" stroke="#d6c29b" stroke-width="1.2"/>
<circle cx="85.45" cy="274.88" r="1.95" fill="none" stroke="#d6c29b" stroke-width="1.2"/>
<circle cx="84.55" cy="273.80" r="1.95" fill="none" stroke="#d6c29b" stroke-width="1.2"/>
<circle cx="83.65" cy="272.72" r="1.95" fill="none" stroke="#d6c29b" stroke-width="1.2"/>
<circle cx="85.45" cy="271.64" r="1.95" fill="none" stroke="#d6c29b" stroke-width="1.2"/>
<circle cx="84.55" cy="270.77" r="1.95" fill="none" stroke="#d6c29b" stroke-width="1.2"/>
<rect x="97.10" y="328.00" width="5.50" height="31.60" fill="#bad5cf"/>
<line x1="97.10" y1="328.00" x2="97.10" y2="359.60" stroke="#74aa9e" stroke-width="1.25"/>
<line x1="102.60" y1="328.00" x2="102.60" y2="359.60" stroke="#74aa9e" stroke-width="1.25"/>
<rect x="97.10" y="300.68" width="5.50" height="18.02" fill="#bad5cf"/>
<line x1="97.10" y1="300.68" x2="97.10" y2="318.70" stroke="#74aa9e" stroke-width="1.25"/>
<line x1="102.60" y1="300.68" x2="102.60" y2="318.70" stroke="#74aa9e" stroke-width="1.25"/>
<line x1="96.55" y1="300.68" x2="103.15" y2="300.68" stroke="#74aa9e" stroke-width="1.1"/>
<rect x="106.80" y="328.00" width="5.50" height="31.60" fill="#ede3d0"/>
<line x1="106.80" y1="328.00" x2="106.80" y2="359.60" stroke="#d8c49e" stroke-width="1.25"/>
<line x1="112.30" y1="328.00" x2="112.30" y2="359.60" stroke="#d8c49e" stroke-width="1.25"/>
<rect x="106.80" y="297.33" width="5.50" height="21.37" fill="#ede3d0"/>
<line x1="106.80" y1="297.33" x2="106.80" y2="318.70" stroke="#d8c49e" stroke-width="1.25"/>
<line x1="112.30" y1="297.33" x2="112.30" y2="318.70" stroke="#d8c49e" stroke-width="1.25"/>
<line x1="106.25" y1="297.33" x2="112.85" y2="297.33" stroke="#d8c49e" stroke-width="1.1"/>
<circle cx="98.95" cy="307.53" r="1.95" fill="none" stroke="#6fa799" stroke-width="1.2"/>
<circle cx="100.75" cy="304.34" r="1.95" fill="none" stroke="#6fa799" stroke-width="1.2"/>
<circle cx="99.85" cy="301.15" r="1.95" fill="none" stroke="#6fa799" stroke-width="1.2"/>
<circle cx="98.95" cy="297.96" r="1.95" fill="none" stroke="#6fa799" stroke-width="1.2"/>
<circle cx="100.75" cy="296.37" r="1.95" fill="none" stroke="#6fa799" stroke-width="1.2"/>
<circle cx="99.85" cy="293.50" r="1.95" fill="none" stroke="#6fa799" stroke-width="1.2"/>
<circle cx="108.65" cy="304.34" r="1.95" fill="none" stroke="#d6c29b" stroke-width="1.2"/>
<circle cx="110.45" cy="301.15" r="1.95" fill="none" stroke="#d6c29b" stroke-width="1.2"/>
<circle cx="109.55" cy="297.96" r="1.95" fill="none" stroke="#d6c29b" stroke-width="1.2"/>
<circle cx="108.65" cy="294.77" r="1.95" fill="none" stroke="#d6c29b" stroke-width="1.2"/>
<circle cx="110.45" cy="292.38" r="1.95" fill="none" stroke="#d6c29b" stroke-width="1.2"/>
<circle cx="109.55" cy="290.79" r="1.95" fill="none" stroke="#d6c29b" stroke-width="1.2"/>
<rect x="122.10" y="350.12" width="5.50" height="9.48" fill="#bad5cf"/>
<line x1="122.10" y1="350.12" x2="122.10" y2="359.60" stroke="#74aa9e" stroke-width="1.25"/>
<line x1="127.60" y1="350.12" x2="127.60" y2="359.60" stroke="#74aa9e" stroke-width="1.25"/>
<line x1="121.55" y1="350.12" x2="128.15" y2="350.12" stroke="#74aa9e" stroke-width="1.1"/>
<rect x="131.80" y="350.52" width="5.50" height="9.08" fill="#ede3d0"/>
<line x1="131.80" y1="350.52" x2="131.80" y2="359.60" stroke="#d8c49e" stroke-width="1.25"/>
<line x1="137.30" y1="350.52" x2="137.30" y2="359.60" stroke="#d8c49e" stroke-width="1.25"/>
<line x1="131.25" y1="350.52" x2="137.85" y2="350.52" stroke="#d8c49e" stroke-width="1.1"/>
<circle cx="123.95" cy="352.49" r="1.95" fill="none" stroke="#6fa799" stroke-width="1.2"/>
<circle cx="125.75" cy="351.70" r="1.95" fill="none" stroke="#6fa799" stroke-width="1.2"/>
<circle cx="124.85" cy="350.52" r="1.95" fill="none" stroke="#6fa799" stroke-width="1.2"/>
<circle cx="123.95" cy="349.33" r="1.95" fill="none" stroke="#6fa799" stroke-width="1.2"/>
<circle cx="125.75" cy="348.15" r="1.95" fill="none" stroke="#6fa799" stroke-width="1.2"/>
<circle cx="124.85" cy="346.96" r="1.95" fill="none" stroke="#6fa799" stroke-width="1.2"/>
<circle cx="133.65" cy="352.49" r="1.95" fill="none" stroke="#d6c29b" stroke-width="1.2"/>
<circle cx="135.45" cy="351.70" r="1.95" fill="none" stroke="#d6c29b" stroke-width="1.2"/>
<circle cx="134.55" cy="350.91" r="1.95" fill="none" stroke="#d6c29b" stroke-width="1.2"/>
<circle cx="133.65" cy="350.12" r="1.95" fill="none" stroke="#d6c29b" stroke-width="1.2"/>
<circle cx="135.45" cy="349.33" r="1.95" fill="none" stroke="#d6c29b" stroke-width="1.2"/>
<circle cx="134.55" cy="348.54" r="1.95" fill="none" stroke="#d6c29b" stroke-width="1.2"/>
<rect x="147.10" y="328.00" width="5.50" height="31.60" fill="#bad5cf"/>
<line x1="147.10" y1="328.00" x2="147.10" y2="359.60" stroke="#74aa9e" stroke-width="1.25"/>
<line x1="152.60" y1="328.00" x2="152.60" y2="359.60" stroke="#74aa9e" stroke-width="1.25"/>
<rect x="147.10" y="309.93" width="5.50" height="8.77" fill="#bad5cf"/>
<line x1="147.10" y1="309.93" x2="147.10" y2="318.70" stroke="#74aa9e" stroke-width="1.25"/>
<line x1="152.60" y1="309.93" x2="152.60" y2="318.70" stroke="#74aa9e" stroke-width="1.25"/>
<line x1="146.55" y1="309.93" x2="153.15" y2="309.93" stroke="#74aa9e" stroke-width="1.1"/>
<rect x="156.80" y="328.00" width="5.50" height="31.60" fill="#ede3d0"/>
<line x1="156.80" y1="328.00" x2="156.80" y2="359.60" stroke="#d8c49e" stroke-width="1.25"/>
<line x1="162.30" y1="328.00" x2="162.30" y2="359.60" stroke="#d8c49e" stroke-width="1.25"/>
<rect x="156.80" y="305.14" width="5.50" height="13.56" fill="#ede3d0"/>
<line x1="156.80" y1="305.14" x2="156.80" y2="318.70" stroke="#d8c49e" stroke-width="1.25"/>
<line x1="162.30" y1="305.14" x2="162.30" y2="318.70" stroke="#d8c49e" stroke-width="1.25"/>
<line x1="156.25" y1="305.14" x2="162.85" y2="305.14" stroke="#d8c49e" stroke-width="1.1"/>
<circle cx="148.95" cy="315.51" r="1.95" fill="none" stroke="#6fa799" stroke-width="1.2"/>
<circle cx="150.75" cy="312.32" r="1.95" fill="none" stroke="#6fa799" stroke-width="1.2"/>
<circle cx="149.85" cy="310.72" r="1.95" fill="none" stroke="#6fa799" stroke-width="1.2"/>
<circle cx="148.95" cy="309.13" r="1.95" fill="none" stroke="#6fa799" stroke-width="1.2"/>
<circle cx="150.75" cy="307.53" r="1.95" fill="none" stroke="#6fa799" stroke-width="1.2"/>
<circle cx="149.85" cy="301.47" r="1.95" fill="none" stroke="#6fa799" stroke-width="1.2"/>
<circle cx="158.65" cy="310.72" r="1.95" fill="none" stroke="#d6c29b" stroke-width="1.2"/>
<circle cx="160.45" cy="307.53" r="1.95" fill="none" stroke="#d6c29b" stroke-width="1.2"/>
<circle cx="159.55" cy="305.14" r="1.95" fill="none" stroke="#d6c29b" stroke-width="1.2"/>
<circle cx="158.65" cy="303.55" r="1.95" fill="none" stroke="#d6c29b" stroke-width="1.2"/>
<circle cx="160.45" cy="302.75" r="1.95" fill="none" stroke="#d6c29b" stroke-width="1.2"/>
<circle cx="159.55" cy="301.15" r="1.95" fill="none" stroke="#d6c29b" stroke-width="1.2"/>
<rect x="172.10" y="348.15" width="5.50" height="11.45" fill="#bad5cf"/>
<line x1="172.10" y1="348.15" x2="172.10" y2="359.60" stroke="#74aa9e" stroke-width="1.25"/>
<line x1="177.60" y1="348.15" x2="177.60" y2="359.60" stroke="#74aa9e" stroke-width="1.25"/>
<line x1="171.55" y1="348.15" x2="178.15" y2="348.15" stroke="#74aa9e" stroke-width="1.1"/>
<rect x="181.80" y="347.36" width="5.50" height="12.25" fill="#ede3d0"/>
<line x1="181.80" y1="347.36" x2="181.80" y2="359.60" stroke="#d8c49e" stroke-width="1.25"/>
<line x1="187.30" y1="347.36" x2="187.30" y2="359.60" stroke="#d8c49e" stroke-width="1.25"/>
<line x1="181.25" y1="347.36" x2="187.85" y2="347.36" stroke="#d8c49e" stroke-width="1.1"/>
<circle cx="173.95" cy="351.70" r="1.95" fill="none" stroke="#6fa799" stroke-width="1.2"/>
<circle cx="175.75" cy="350.12" r="1.95" fill="none" stroke="#6fa799" stroke-width="1.2"/>
<circle cx="174.85" cy="348.54" r="1.95" fill="none" stroke="#6fa799" stroke-width="1.2"/>
<circle cx="173.95" cy="346.96" r="1.95" fill="none" stroke="#6fa799" stroke-width="1.2"/>
<circle cx="175.75" cy="345.78" r="1.95" fill="none" stroke="#6fa799" stroke-width="1.2"/>
<circle cx="174.85" cy="344.20" r="1.95" fill="none" stroke="#6fa799" stroke-width="1.2"/>
<circle cx="183.65" cy="350.91" r="1.95" fill="none" stroke="#d6c29b" stroke-width="1.2"/>
<circle cx="185.45" cy="349.33" r="1.95" fill="none" stroke="#d6c29b" stroke-width="1.2"/>
<circle cx="184.55" cy="348.15" r="1.95" fill="none" stroke="#d6c29b" stroke-width="1.2"/>
<circle cx="183.65" cy="346.96" r="1.95" fill="none" stroke="#d6c29b" stroke-width="1.2"/>
<circle cx="185.45" cy="346.17" r="1.95" fill="none" stroke="#d6c29b" stroke-width="1.2"/>
<circle cx="184.55" cy="344.99" r="1.95" fill="none" stroke="#d6c29b" stroke-width="1.2"/>
<rect x="197.10" y="347.36" width="5.50" height="12.25" fill="#bad5cf"/>
<line x1="197.10" y1="347.36" x2="197.10" y2="359.60" stroke="#74aa9e" stroke-width="1.25"/>
<line x1="202.60" y1="347.36" x2="202.60" y2="359.60" stroke="#74aa9e" stroke-width="1.25"/>
<line x1="196.55" y1="347.36" x2="203.15" y2="347.36" stroke="#74aa9e" stroke-width="1.1"/>
<rect x="206.80" y="346.96" width="5.50" height="12.64" fill="#ede3d0"/>
<line x1="206.80" y1="346.96" x2="206.80" y2="359.60" stroke="#d8c49e" stroke-width="1.25"/>
<line x1="212.30" y1="346.96" x2="212.30" y2="359.60" stroke="#d8c49e" stroke-width="1.25"/>
<line x1="206.25" y1="346.96" x2="212.85" y2="346.96" stroke="#d8c49e" stroke-width="1.1"/>
<circle cx="198.95" cy="350.12" r="1.95" fill="none" stroke="#6fa799" stroke-width="1.2"/>
<circle cx="200.75" cy="348.94" r="1.95" fill="none" stroke="#6fa799" stroke-width="1.2"/>
<circle cx="199.85" cy="347.75" r="1.95" fill="none" stroke="#6fa799" stroke-width="1.2"/>
<circle cx="198.95" cy="346.56" r="1.95" fill="none" stroke="#6fa799" stroke-width="1.2"/>
<circle cx="200.75" cy="345.38" r="1.95" fill="none" stroke="#6fa799" stroke-width="1.2"/>
<circle cx="199.85" cy="344.20" r="1.95" fill="none" stroke="#6fa799" stroke-width="1.2"/>
<circle cx="208.65" cy="350.91" r="1.95" fill="none" stroke="#d6c29b" stroke-width="1.2"/>
<circle cx="210.45" cy="349.33" r="1.95" fill="none" stroke="#d6c29b" stroke-width="1.2"/>
<circle cx="209.55" cy="347.75" r="1.95" fill="none" stroke="#d6c29b" stroke-width="1.2"/>
<circle cx="208.65" cy="346.17" r="1.95" fill="none" stroke="#d6c29b" stroke-width="1.2"/>
<circle cx="210.45" cy="344.99" r="1.95" fill="none" stroke="#d6c29b" stroke-width="1.2"/>
<circle cx="209.55" cy="340.64" r="1.95" fill="none" stroke="#d6c29b" stroke-width="1.2"/>
<rect x="222.10" y="328.00" width="5.50" height="31.60" fill="#bad5cf"/>
<line x1="222.10" y1="328.00" x2="222.10" y2="359.60" stroke="#74aa9e" stroke-width="1.25"/>
<line x1="227.60" y1="328.00" x2="227.60" y2="359.60" stroke="#74aa9e" stroke-width="1.25"/>
<rect x="222.10" y="286.80" width="5.50" height="31.90" fill="#bad5cf"/>
<line x1="222.10" y1="286.80" x2="222.10" y2="318.70" stroke="#74aa9e" stroke-width="1.25"/>
<line x1="227.60" y1="286.80" x2="227.60" y2="318.70" stroke="#74aa9e" stroke-width="1.25"/>
<rect x="222.10" y="264.51" width="5.50" height="13.39" fill="#bad5cf"/>
<line x1="222.10" y1="264.51" x2="222.10" y2="277.90" stroke="#74aa9e" stroke-width="1.25"/>
<line x1="227.60" y1="264.51" x2="227.60" y2="277.90" stroke="#74aa9e" stroke-width="1.25"/>
<line x1="221.55" y1="264.51" x2="228.15" y2="264.51" stroke="#74aa9e" stroke-width="1.1"/>
<rect x="231.80" y="328.00" width="5.50" height="31.60" fill="#ede3d0"/>
<line x1="231.80" y1="328.00" x2="231.80" y2="359.60" stroke="#d8c49e" stroke-width="1.25"/>
<line x1="237.30" y1="328.00" x2="237.30" y2="359.60" stroke="#d8c49e" stroke-width="1.25"/>
<rect x="231.80" y="286.80" width="5.50" height="31.90" fill="#ede3d0"/>
<line x1="231.80" y1="286.80" x2="231.80" y2="318.70" stroke="#d8c49e" stroke-width="1.25"/>
<line x1="237.30" y1="286.80" x2="237.30" y2="318.70" stroke="#d8c49e" stroke-width="1.25"/>
<rect x="231.80" y="263.21" width="5.50" height="14.69" fill="#ede3d0"/>
<line x1="231.80" y1="263.21" x2="231.80" y2="277.90" stroke="#d8c49e" stroke-width="1.25"/>
<line x1="237.30" y1="263.21" x2="237.30" y2="277.90" stroke="#d8c49e" stroke-width="1.25"/>
<line x1="231.25" y1="263.21" x2="237.85" y2="263.21" stroke="#d8c49e" stroke-width="1.1"/>
<circle cx="223.95" cy="267.53" r="1.95" fill="none" stroke="#6fa799" stroke-width="1.2"/>
<circle cx="225.75" cy="266.24" r="1.95" fill="none" stroke="#6fa799" stroke-width="1.2"/>
<circle cx="224.85" cy="264.94" r="1.95" fill="none" stroke="#6fa799" stroke-width="1.2"/>
<circle cx="223.95" cy="263.64" r="1.95" fill="none" stroke="#6fa799" stroke-width="1.2"/>
<circle cx="225.75" cy="262.35" r="1.95" fill="none" stroke="#6fa799" stroke-width="1.2"/>
<circle cx="224.85" cy="261.27" r="1.95" fill="none" stroke="#6fa799" stroke-width="1.2"/>
<circle cx="233.65" cy="265.80" r="1.95" fill="none" stroke="#d6c29b" stroke-width="1.2"/>
<circle cx="235.45" cy="264.51" r="1.95" fill="none" stroke="#d6c29b" stroke-width="1.2"/>
<circle cx="234.55" cy="263.43" r="1.95" fill="none" stroke="#d6c29b" stroke-width="1.2"/>
<circle cx="233.65" cy="262.56" r="1.95" fill="none" stroke="#d6c29b" stroke-width="1.2"/>
<circle cx="235.45" cy="261.70" r="1.95" fill="none" stroke="#d6c29b" stroke-width="1.2"/>
<circle cx="234.55" cy="261.05" r="1.95" fill="none" stroke="#d6c29b" stroke-width="1.2"/>
<circle cx="133.70" cy="253.10" r="1.9" fill="none" stroke="#6fa799" stroke-width="1.2"/>
<text x="147.30" y="256.70" font-size="9.4" font-weight="normal" text-anchor="start" fill="#111">HRDS-C</text>
<circle cx="133.70" cy="268.40" r="1.9" fill="none" stroke="#d6c29b" stroke-width="1.2"/>
<text x="147.30" y="272.00" font-size="9.4" font-weight="normal" text-anchor="start" fill="#111">HRDS-BA</text>
<line x1="221.40" y1="255.20" x2="239.20" y2="255.20" stroke="#111" stroke-width="1.6"/>
<text class="st" x="230.50" y="250.20" font-size="8.3" text-anchor="middle" fill="#e8383d" font-family="'DejaVu Sans', sans-serif">&#x2731;</text>
<text x="44.60" y="301.60" font-size="9.4" font-weight="bold" text-anchor="middle" fill="#111" transform="rotate(-90 44.60 301.60)">Concentration in rumen (mmol/L)</text>
<line x1="354.00" y1="245.50" x2="354.00" y2="298.70" stroke="#262626" stroke-width="1.25"/>
<line x1="349.40" y1="245.50" x2="354.00" y2="245.50" stroke="#262626" stroke-width="1.25"/>
<text x="348.10" y="248.50" font-size="8.7" font-weight="bold" text-anchor="end" fill="#111">5</text>
<line x1="349.40" y1="258.80" x2="354.00" y2="258.80" stroke="#262626" stroke-width="1.25"/>
<text x="348.10" y="261.80" font-size="8.7" font-weight="bold" text-anchor="end" fill="#111">4</text>
<line x1="349.40" y1="272.10" x2="354.00" y2="272.10" stroke="#262626" stroke-width="1.25"/>
<text x="348.10" y="275.10" font-size="8.7" font-weight="bold" text-anchor="end" fill="#111">3</text>
<line x1="349.40" y1="285.40" x2="354.00" y2="285.40" stroke="#262626" stroke-width="1.25"/>
<text x="348.10" y="288.40" font-size="8.7" font-weight="bold" text-anchor="end" fill="#111">2</text>
<text x="348.10" y="301.70" font-size="8.7" font-weight="bold" text-anchor="end" fill="#111">1</text>
<line x1="351.00" y1="298.70" x2="357.00" y2="298.70" stroke="#262626" stroke-width="1.25"/>
<line x1="354.00" y1="307.70" x2="354.00" y2="359.90" stroke="#262626" stroke-width="1.25"/>
<text x="348.10" y="310.70" font-size="8.7" font-weight="bold" text-anchor="end" fill="#111">0.3</text>
<line x1="349.40" y1="325.10" x2="354.00" y2="325.10" stroke="#262626" stroke-width="1.25"/>
<text x="348.10" y="328.10" font-size="8.7" font-weight="bold" text-anchor="end" fill="#111">0.2</text>
<line x1="349.40" y1="342.50" x2="354.00" y2="342.50" stroke="#262626" stroke-width="1.25"/>
<text x="348.10" y="345.50" font-size="8.7" font-weight="bold" text-anchor="end" fill="#111">0.1</text>
<line x1="349.40" y1="359.90" x2="354.00" y2="359.90" stroke="#262626" stroke-width="1.25"/>
<text x="348.10" y="362.90" font-size="8.7" font-weight="bold" text-anchor="end" fill="#111">0.0</text>
<line x1="351.00" y1="307.70" x2="357.00" y2="307.70" stroke="#262626" stroke-width="1.25"/>
<line x1="354.00" y1="359.90" x2="526.40" y2="359.90" stroke="#262626" stroke-width="1.25"/>
<line x1="365.00" y1="359.90" x2="365.00" y2="364.60" stroke="#262626" stroke-width="1.25"/>
<text x="367.60" y="374.00" font-size="8.5" font-weight="bold" text-anchor="end" fill="#111" transform="rotate(-45 367.60 374.00)">Acetate</text>
<line x1="390.00" y1="359.90" x2="390.00" y2="364.60" stroke="#262626" stroke-width="1.25"/>
<text x="392.60" y="374.00" font-size="8.5" font-weight="bold" text-anchor="end" fill="#111" transform="rotate(-45 392.60 374.00)">Propionate</text>
<line x1="415.00" y1="359.90" x2="415.00" y2="364.60" stroke="#262626" stroke-width="1.25"/>
<text x="417.60" y="374.00" font-size="8.5" font-weight="bold" text-anchor="end" fill="#111" transform="rotate(-45 417.60 374.00)">Isobutyrate</text>
<line x1="440.00" y1="359.90" x2="440.00" y2="364.60" stroke="#262626" stroke-width="1.25"/>
<text x="442.60" y="374.00" font-size="8.5" font-weight="bold" text-anchor="end" fill="#111" transform="rotate(-45 442.60 374.00)">Butyrate</text>
<line x1="465.00" y1="359.90" x2="465.00" y2="364.60" stroke="#262626" stroke-width="1.25"/>
<text x="467.60" y="374.00" font-size="8.5" font-weight="bold" text-anchor="end" fill="#111" transform="rotate(-45 467.60 374.00)">Isovalerate</text>
<line x1="490.00" y1="359.90" x2="490.00" y2="364.60" stroke="#262626" stroke-width="1.25"/>
<text x="492.60" y="374.00" font-size="8.5" font-weight="bold" text-anchor="end" fill="#111" transform="rotate(-45 492.60 374.00)">Valerate</text>
<line x1="515.00" y1="359.90" x2="515.00" y2="364.60" stroke="#262626" stroke-width="1.25"/>
<text x="517.60" y="374.00" font-size="8.5" font-weight="bold" text-anchor="end" fill="#111" transform="rotate(-45 517.60 374.00)">Total acid</text>
<rect x="357.55" y="307.70" width="5.70" height="52.20" fill="#bad5cf"/>
<line x1="357.55" y1="307.70" x2="357.55" y2="359.90" stroke="#74aa9e" stroke-width="1.25"/>
<line x1="363.25" y1="307.70" x2="363.25" y2="359.90" stroke="#74aa9e" stroke-width="1.25"/>
<rect x="357.55" y="274.76" width="5.70" height="23.94" fill="#bad5cf"/>
<line x1="357.55" y1="274.76" x2="357.55" y2="298.70" stroke="#74aa9e" stroke-width="1.25"/>
<line x1="363.25" y1="274.76" x2="363.25" y2="298.70" stroke="#74aa9e" stroke-width="1.25"/>
<line x1="357.00" y1="274.76" x2="363.80" y2="274.76" stroke="#74aa9e" stroke-width="1.1"/>
<rect x="366.90" y="307.70" width="5.70" height="52.20" fill="#ede3d0"/>
<line x1="366.90" y1="307.70" x2="366.90" y2="359.90" stroke="#d8c49e" stroke-width="1.25"/>
<line x1="372.60" y1="307.70" x2="372.60" y2="359.90" stroke="#d8c49e" stroke-width="1.25"/>
<rect x="366.90" y="264.12" width="5.70" height="34.58" fill="#ede3d0"/>
<line x1="366.90" y1="264.12" x2="366.90" y2="298.70" stroke="#d8c49e" stroke-width="1.25"/>
<line x1="372.60" y1="264.12" x2="372.60" y2="298.70" stroke="#d8c49e" stroke-width="1.25"/>
<line x1="366.35" y1="264.12" x2="373.15" y2="264.12" stroke="#d8c49e" stroke-width="1.1"/>
<circle cx="359.50" cy="281.41" r="1.95" fill="none" stroke="#6fa799" stroke-width="1.2"/>
<circle cx="361.30" cy="278.75" r="1.95" fill="none" stroke="#6fa799" stroke-width="1.2"/>
<circle cx="360.40" cy="276.09" r="1.95" fill="none" stroke="#6fa799" stroke-width="1.2"/>
<circle cx="359.50" cy="273.43" r="1.95" fill="none" stroke="#6fa799" stroke-width="1.2"/>
<circle cx="361.30" cy="272.10" r="1.95" fill="none" stroke="#6fa799" stroke-width="1.2"/>
<circle cx="360.40" cy="267.44" r="1.95" fill="none" stroke="#6fa799" stroke-width="1.2"/>
<circle cx="368.85" cy="270.77" r="1.95" fill="none" stroke="#d6c29b" stroke-width="1.2"/>
<circle cx="370.65" cy="268.11" r="1.95" fill="none" stroke="#d6c29b" stroke-width="1.2"/>
<circle cx="369.75" cy="265.45" r="1.95" fill="none" stroke="#d6c29b" stroke-width="1.2"/>
<circle cx="368.85" cy="262.79" r="1.95" fill="none" stroke="#d6c29b" stroke-width="1.2"/>
<circle cx="370.65" cy="260.79" r="1.95" fill="none" stroke="#d6c29b" stroke-width="1.2"/>
<circle cx="369.75" cy="252.15" r="1.95" fill="none" stroke="#d6c29b" stroke-width="1.2"/>
<rect x="382.55" y="328.58" width="5.70" height="31.32" fill="#bad5cf"/>
<line x1="382.55" y1="328.58" x2="382.55" y2="359.90" stroke="#74aa9e" stroke-width="1.25"/>
<line x1="388.25" y1="328.58" x2="388.25" y2="359.90" stroke="#74aa9e" stroke-width="1.25"/>
<line x1="382.00" y1="328.58" x2="388.80" y2="328.58" stroke="#74aa9e" stroke-width="1.1"/>
<rect x="391.90" y="328.58" width="5.70" height="31.32" fill="#ede3d0"/>
<line x1="391.90" y1="328.58" x2="391.90" y2="359.90" stroke="#d8c49e" stroke-width="1.25"/>
<line x1="397.60" y1="328.58" x2="397.60" y2="359.90" stroke="#d8c49e" stroke-width="1.25"/>
<line x1="391.35" y1="328.58" x2="398.15" y2="328.58" stroke="#d8c49e" stroke-width="1.1"/>
<circle cx="384.50" cy="333.80" r="1.95" fill="none" stroke="#6fa799" stroke-width="1.2"/>
<circle cx="386.30" cy="332.06" r="1.95" fill="none" stroke="#6fa799" stroke-width="1.2"/>
<circle cx="385.40" cy="330.32" r="1.95" fill="none" stroke="#6fa799" stroke-width="1.2"/>
<circle cx="384.50" cy="327.71" r="1.95" fill="none" stroke="#6fa799" stroke-width="1.2"/>
<circle cx="386.30" cy="325.97" r="1.95" fill="none" stroke="#6fa799" stroke-width="1.2"/>
<circle cx="385.40" cy="323.36" r="1.95" fill="none" stroke="#6fa799" stroke-width="1.2"/>
<circle cx="393.85" cy="333.80" r="1.95" fill="none" stroke="#d6c29b" stroke-width="1.2"/>
<circle cx="395.65" cy="331.19" r="1.95" fill="none" stroke="#d6c29b" stroke-width="1.2"/>
<circle cx="394.75" cy="329.45" r="1.95" fill="none" stroke="#d6c29b" stroke-width="1.2"/>
<circle cx="393.85" cy="327.71" r="1.95" fill="none" stroke="#d6c29b" stroke-width="1.2"/>
<circle cx="395.65" cy="325.10" r="1.95" fill="none" stroke="#d6c29b" stroke-width="1.2"/>
<circle cx="394.75" cy="322.49" r="1.95" fill="none" stroke="#d6c29b" stroke-width="1.2"/>
<rect x="407.55" y="349.46" width="5.70" height="10.44" fill="#bad5cf"/>
<line x1="407.55" y1="349.46" x2="407.55" y2="359.90" stroke="#74aa9e" stroke-width="1.25"/>
<line x1="413.25" y1="349.46" x2="413.25" y2="359.90" stroke="#74aa9e" stroke-width="1.25"/>
<line x1="407.00" y1="349.46" x2="413.80" y2="349.46" stroke="#74aa9e" stroke-width="1.1"/>
<rect x="416.90" y="346.85" width="5.70" height="13.05" fill="#ede3d0"/>
<line x1="416.90" y1="346.85" x2="416.90" y2="359.90" stroke="#d8c49e" stroke-width="1.25"/>
<line x1="422.60" y1="346.85" x2="422.60" y2="359.90" stroke="#d8c49e" stroke-width="1.25"/>
<line x1="416.35" y1="346.85" x2="423.15" y2="346.85" stroke="#d8c49e" stroke-width="1.1"/>
<circle cx="409.50" cy="354.68" r="1.95" fill="none" stroke="#6fa799" stroke-width="1.2"/>
<circle cx="411.30" cy="352.94" r="1.95" fill="none" stroke="#6fa799" stroke-width="1.2"/>
<circle cx="410.40" cy="351.20" r="1.95" fill="none" stroke="#6fa799" stroke-width="1.2"/>
<circle cx="409.50" cy="349.46" r="1.95" fill="none" stroke="#6fa799" stroke-width="1.2"/>
<circle cx="411.30" cy="345.98" r="1.95" fill="none" stroke="#6fa799" stroke-width="1.2"/>
<circle cx="410.40" cy="342.50" r="1.95" fill="none" stroke="#6fa799" stroke-width="1.2"/>
<circle cx="418.85" cy="351.20" r="1.95" fill="none" stroke="#d6c29b" stroke-width="1.2"/>
<circle cx="420.65" cy="349.46" r="1.95" fill="none" stroke="#d6c29b" stroke-width="1.2"/>
<circle cx="419.75" cy="347.72" r="1.95" fill="none" stroke="#d6c29b" stroke-width="1.2"/>
<circle cx="418.85" cy="345.98" r="1.95" fill="none" stroke="#d6c29b" stroke-width="1.2"/>
<circle cx="420.65" cy="341.63" r="1.95" fill="none" stroke="#d6c29b" stroke-width="1.2"/>
<circle cx="419.75" cy="330.32" r="1.95" fill="none" stroke="#d6c29b" stroke-width="1.2"/>
<rect x="432.55" y="354.68" width="5.70" height="5.22" fill="#bad5cf"/>
<line x1="432.55" y1="354.68" x2="432.55" y2="359.90" stroke="#74aa9e" stroke-width="1.25"/>
<line x1="438.25" y1="354.68" x2="438.25" y2="359.90" stroke="#74aa9e" stroke-width="1.25"/>
<line x1="432.00" y1="354.68" x2="438.80" y2="354.68" stroke="#74aa9e" stroke-width="1.1"/>
<rect x="441.90" y="353.29" width="5.70" height="6.61" fill="#ede3d0"/>
<line x1="441.90" y1="353.29" x2="441.90" y2="359.90" stroke="#d8c49e" stroke-width="1.25"/>
<line x1="447.60" y1="353.29" x2="447.60" y2="359.90" stroke="#d8c49e" stroke-width="1.25"/>
<line x1="441.35" y1="353.29" x2="448.15" y2="353.29" stroke="#d8c49e" stroke-width="1.1"/>
<circle cx="434.50" cy="356.07" r="1.95" fill="none" stroke="#6fa799" stroke-width="1.2"/>
<circle cx="436.30" cy="355.38" r="1.95" fill="none" stroke="#6fa799" stroke-width="1.2"/>
<circle cx="435.40" cy="354.68" r="1.95" fill="none" stroke="#6fa799" stroke-width="1.2"/>
<circle cx="434.50" cy="354.16" r="1.95" fill="none" stroke="#6fa799" stroke-width="1.2"/>
<circle cx="436.30" cy="353.64" r="1.95" fill="none" stroke="#6fa799" stroke-width="1.2"/>
<circle cx="435.40" cy="352.94" r="1.95" fill="none" stroke="#6fa799" stroke-width="1.2"/>
<circle cx="443.85" cy="355.03" r="1.95" fill="none" stroke="#d6c29b" stroke-width="1.2"/>
<circle cx="445.65" cy="354.33" r="1.95" fill="none" stroke="#d6c29b" stroke-width="1.2"/>
<circle cx="444.75" cy="353.64" r="1.95" fill="none" stroke="#d6c29b" stroke-width="1.2"/>
<circle cx="443.85" cy="353.11" r="1.95" fill="none" stroke="#d6c29b" stroke-width="1.2"/>
<circle cx="445.65" cy="352.59" r="1.95" fill="none" stroke="#d6c29b" stroke-width="1.2"/>
<circle cx="444.75" cy="352.07" r="1.95" fill="none" stroke="#d6c29b" stroke-width="1.2"/>
<rect x="457.55" y="349.46" width="5.70" height="10.44" fill="#bad5cf"/>
<line x1="457.55" y1="349.46" x2="457.55" y2="359.90" stroke="#74aa9e" stroke-width="1.25"/>
<line x1="463.25" y1="349.46" x2="463.25" y2="359.90" stroke="#74aa9e" stroke-width="1.25"/>
<line x1="457.00" y1="349.46" x2="463.80" y2="349.46" stroke="#74aa9e" stroke-width="1.1"/>
<rect x="466.90" y="344.24" width="5.70" height="15.66" fill="#ede3d0"/>
<line x1="466.90" y1="344.24" x2="466.90" y2="359.90" stroke="#d8c49e" stroke-width="1.25"/>
<line x1="472.60" y1="344.24" x2="472.60" y2="359.90" stroke="#d8c49e" stroke-width="1.25"/>
<line x1="466.35" y1="344.24" x2="473.15" y2="344.24" stroke="#d8c49e" stroke-width="1.1"/>
<circle cx="459.50" cy="350.85" r="1.95" fill="none" stroke="#6fa799" stroke-width="1.2"/>
<circle cx="461.30" cy="350.16" r="1.95" fill="none" stroke="#6fa799" stroke-width="1.2"/>
<circle cx="460.40" cy="349.46" r="1.95" fill="none" stroke="#6fa799" stroke-width="1.2"/>
<circle cx="459.50" cy="348.94" r="1.95" fill="none" stroke="#6fa799" stroke-width="1.2"/>
<circle cx="461.30" cy="348.42" r="1.95" fill="none" stroke="#6fa799" stroke-width="1.2"/>
<circle cx="460.40" cy="348.07" r="1.95" fill="none" stroke="#6fa799" stroke-width="1.2"/>
<circle cx="468.85" cy="346.85" r="1.95" fill="none" stroke="#d6c29b" stroke-width="1.2"/>
<circle cx="470.65" cy="345.98" r="1.95" fill="none" stroke="#d6c29b" stroke-width="1.2"/>
<circle cx="469.75" cy="345.11" r="1.95" fill="none" stroke="#d6c29b" stroke-width="1.2"/>
<circle cx="468.85" cy="344.24" r="1.95" fill="none" stroke="#d6c29b" stroke-width="1.2"/>
<circle cx="470.65" cy="343.54" r="1.95" fill="none" stroke="#d6c29b" stroke-width="1.2"/>
<circle cx="469.75" cy="343.02" r="1.95" fill="none" stroke="#d6c29b" stroke-width="1.2"/>
<rect x="482.55" y="356.07" width="5.70" height="3.83" fill="#bad5cf"/>
<line x1="482.55" y1="356.07" x2="482.55" y2="359.90" stroke="#74aa9e" stroke-width="1.25"/>
<line x1="488.25" y1="356.07" x2="488.25" y2="359.90" stroke="#74aa9e" stroke-width="1.25"/>
<line x1="482.00" y1="356.07" x2="488.80" y2="356.07" stroke="#74aa9e" stroke-width="1.1"/>
<rect x="491.90" y="353.29" width="5.70" height="6.61" fill="#ede3d0"/>
<line x1="491.90" y1="353.29" x2="491.90" y2="359.90" stroke="#d8c49e" stroke-width="1.25"/>
<line x1="497.60" y1="353.29" x2="497.60" y2="359.90" stroke="#d8c49e" stroke-width="1.25"/>
<line x1="491.35" y1="353.29" x2="498.15" y2="353.29" stroke="#d8c49e" stroke-width="1.1"/>
<circle cx="484.50" cy="357.12" r="1.95" fill="none" stroke="#6fa799" stroke-width="1.2"/>
<circle cx="486.30" cy="356.59" r="1.95" fill="none" stroke="#6fa799" stroke-width="1.2"/>
<circle cx="485.40" cy="356.25" r="1.95" fill="none" stroke="#6fa799" stroke-width="1.2"/>
<circle cx="484.50" cy="355.90" r="1.95" fill="none" stroke="#6fa799" stroke-width="1.2"/>
<circle cx="486.30" cy="355.55" r="1.95" fill="none" stroke="#6fa799" stroke-width="1.2"/>
<circle cx="485.40" cy="355.38" r="1.95" fill="none" stroke="#6fa799" stroke-width="1.2"/>
<circle cx="493.85" cy="354.68" r="1.95" fill="none" stroke="#d6c29b" stroke-width="1.2"/>
<circle cx="495.65" cy="354.16" r="1.95" fill="none" stroke="#d6c29b" stroke-width="1.2"/>
<circle cx="494.75" cy="353.64" r="1.95" fill="none" stroke="#d6c29b" stroke-width="1.2"/>
<circle cx="493.85" cy="353.11" r="1.95" fill="none" stroke="#d6c29b" stroke-width="1.2"/>
<circle cx="495.65" cy="352.59" r="1.95" fill="none" stroke="#d6c29b" stroke-width="1.2"/>
<circle cx="494.75" cy="352.07" r="1.95" fill="none" stroke="#d6c29b" stroke-width="1.2"/>
<rect x="507.55" y="307.70" width="5.70" height="52.20" fill="#bad5cf"/>
<line x1="507.55" y1="307.70" x2="507.55" y2="359.90" stroke="#74aa9e" stroke-width="1.25"/>
<line x1="513.25" y1="307.70" x2="513.25" y2="359.90" stroke="#74aa9e" stroke-width="1.25"/>
<rect x="507.55" y="271.44" width="5.70" height="27.26" fill="#bad5cf"/>
<line x1="507.55" y1="271.44" x2="507.55" y2="298.70" stroke="#74aa9e" stroke-width="1.25"/>
<line x1="513.25" y1="271.44" x2="513.25" y2="298.70" stroke="#74aa9e" stroke-width="1.25"/>
<line x1="507.00" y1="271.44" x2="513.80" y2="271.44" stroke="#74aa9e" stroke-width="1.1"/>
<rect x="516.90" y="307.70" width="5.70" height="52.20" fill="#ede3d0"/>
<line x1="516.90" y1="307.70" x2="516.90" y2="359.90" stroke="#d8c49e" stroke-width="1.25"/>
<line x1="522.60" y1="307.70" x2="522.60" y2="359.90" stroke="#d8c49e" stroke-width="1.25"/>
<rect x="516.90" y="259.46" width="5.70" height="39.24" fill="#ede3d0"/>
<line x1="516.90" y1="259.46" x2="516.90" y2="298.70" stroke="#d8c49e" stroke-width="1.25"/>
<line x1="522.60" y1="259.46" x2="522.60" y2="298.70" stroke="#d8c49e" stroke-width="1.25"/>
<line x1="516.35" y1="259.46" x2="523.15" y2="259.46" stroke="#d8c49e" stroke-width="1.1"/>
<circle cx="509.50" cy="277.42" r="1.95" fill="none" stroke="#6fa799" stroke-width="1.2"/>
<circle cx="511.30" cy="274.76" r="1.95" fill="none" stroke="#6fa799" stroke-width="1.2"/>
<circle cx="510.40" cy="272.10" r="1.95" fill="none" stroke="#6fa799" stroke-width="1.2"/>
<circle cx="509.50" cy="269.44" r="1.95" fill="none" stroke="#6fa799" stroke-width="1.2"/>
<circle cx="511.30" cy="266.78" r="1.95" fill="none" stroke="#6fa799" stroke-width="1.2"/>
<circle cx="510.40" cy="262.12" r="1.95" fill="none" stroke="#6fa799" stroke-width="1.2"/>
<circle cx="518.85" cy="265.45" r="1.95" fill="none" stroke="#d6c29b" stroke-width="1.2"/>
<circle cx="520.65" cy="262.79" r="1.95" fill="none" stroke="#d6c29b" stroke-width="1.2"/>
<circle cx="519.75" cy="260.13" r="1.95" fill="none" stroke="#d6c29b" stroke-width="1.2"/>
<circle cx="518.85" cy="258.13" r="1.95" fill="none" stroke="#d6c29b" stroke-width="1.2"/>
<circle cx="520.65" cy="256.14" r="1.95" fill="none" stroke="#d6c29b" stroke-width="1.2"/>
<circle cx="519.75" cy="247.50" r="1.95" fill="none" stroke="#d6c29b" stroke-width="1.2"/>
<circle cx="425.30" cy="252.90" r="1.9" fill="none" stroke="#6fa799" stroke-width="1.2"/>
<text x="438.60" y="256.50" font-size="9.4" font-weight="normal" text-anchor="start" fill="#111">HRDS-C</text>
<circle cx="425.30" cy="268.30" r="1.9" fill="none" stroke="#d6c29b" stroke-width="1.2"/>
<text x="438.60" y="271.80" font-size="9.4" font-weight="normal" text-anchor="start" fill="#111">HRDS-BA</text>
<line x1="356.20" y1="249.30" x2="371.50" y2="249.30" stroke="#111" stroke-width="1.6"/>
<text class="st" x="360.90" y="245.10" font-size="7.3" text-anchor="middle" fill="#e8383d" font-family="'DejaVu Sans', sans-serif">&#x2731;</text>
<text class="st" x="366.40" y="245.10" font-size="7.3" text-anchor="middle" fill="#e8383d" font-family="'DejaVu Sans', sans-serif">&#x2731;</text>
<line x1="456.50" y1="339.00" x2="471.70" y2="339.00" stroke="#111" stroke-width="1.6"/>
<text class="st" x="458.45" y="335.00" font-size="7.3" text-anchor="middle" fill="#e8383d" font-family="'DejaVu Sans', sans-serif">&#x2731;</text>
<text class="st" x="463.95" y="335.00" font-size="7.3" text-anchor="middle" fill="#e8383d" font-family="'DejaVu Sans', sans-serif">&#x2731;</text>
<text class="st" x="469.45" y="335.00" font-size="7.3" text-anchor="middle" fill="#e8383d" font-family="'DejaVu Sans', sans-serif">&#x2731;</text>
<line x1="483.80" y1="345.80" x2="498.70" y2="345.80" stroke="#111" stroke-width="1.6"/>
<text class="st" x="485.50" y="342.00" font-size="7.3" text-anchor="middle" fill="#e8383d" font-family="'DejaVu Sans', sans-serif">&#x2731;</text>
<text class="st" x="491.00" y="342.00" font-size="7.3" text-anchor="middle" fill="#e8383d" font-family="'DejaVu Sans', sans-serif">&#x2731;</text>
<text class="st" x="496.50" y="342.00" font-size="7.3" text-anchor="middle" fill="#e8383d" font-family="'DejaVu Sans', sans-serif">&#x2731;</text>
<line x1="507.40" y1="242.20" x2="522.50" y2="242.20" stroke="#111" stroke-width="1.6"/>
<text class="st" x="512.20" y="238.20" font-size="7.3" text-anchor="middle" fill="#e8383d" font-family="'DejaVu Sans', sans-serif">&#x2731;</text>
<text class="st" x="517.70" y="238.20" font-size="7.3" text-anchor="middle" fill="#e8383d" font-family="'DejaVu Sans', sans-serif">&#x2731;</text>
<text x="330.80" y="302.30" font-size="9.4" font-weight="bold" text-anchor="middle" fill="#111" transform="rotate(-90 330.80 302.30)">Concentation in plasma (mmol/L)</text>
</svg></body></html>
